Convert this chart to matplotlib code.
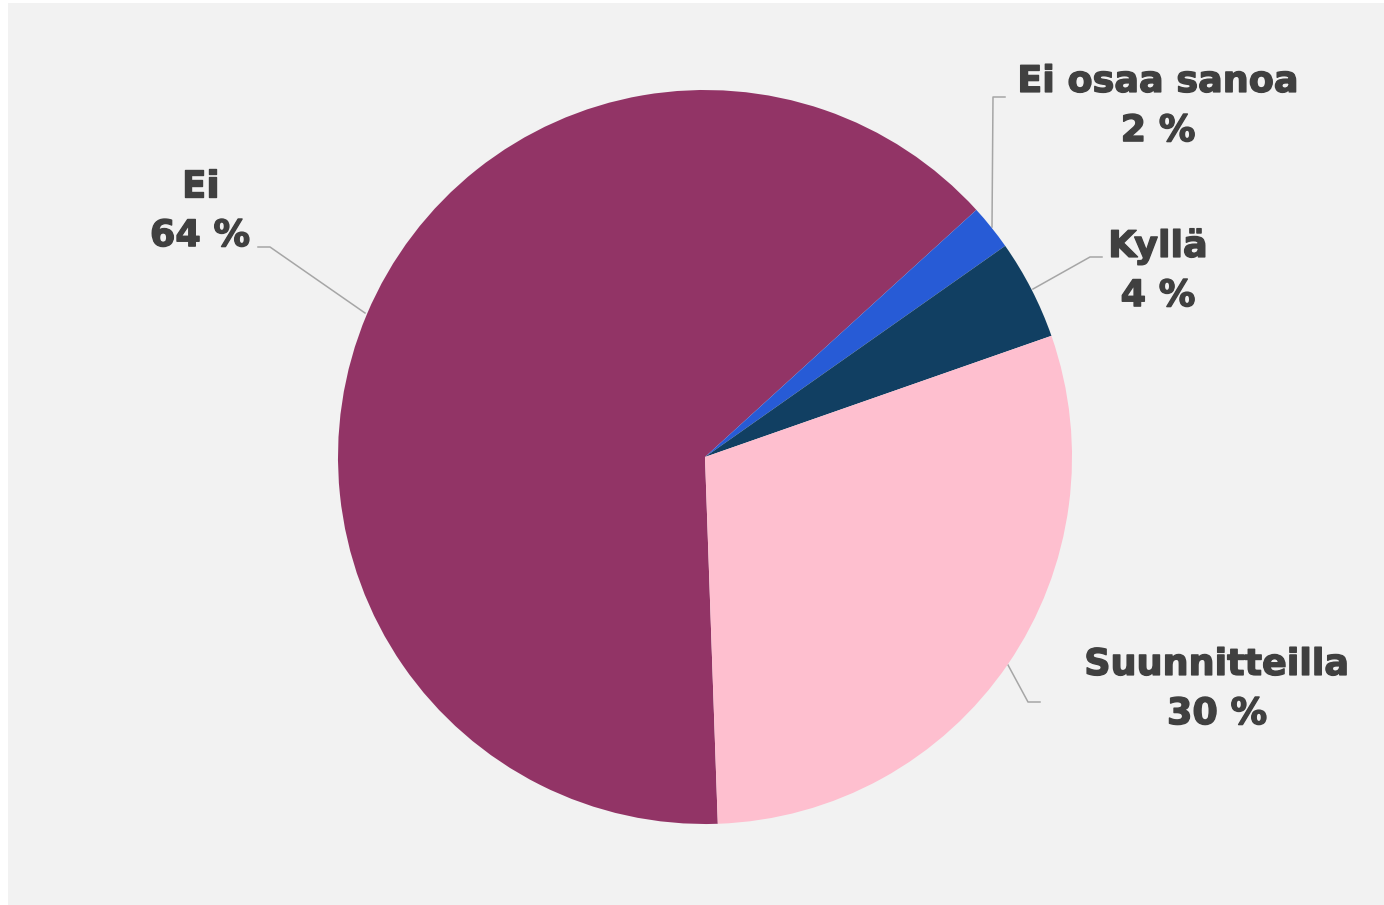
import matplotlib
matplotlib.use("Agg")
import matplotlib.pyplot as plt
import matplotlib.patheffects as pe
from matplotlib.patches import Rectangle

# vastausjakauma (%)
labels = ["Ei", "Ei osaa sanoa", "Kyllä", "Suunnitteilla"]
values = [63.8, 2.0, 4.4, 29.8]
colors = ["#923466", "#275BD6", "#113F62", "#FEBFCF"]

W, H = 1384, 905
fig = plt.figure(figsize=(W / 100, H / 100), dpi=100, facecolor="white")

# overlay in pixel coordinates for background, leader lines and labels
over = fig.add_axes([0, 0, 1, 1])
over.set_xlim(0, W)
over.set_ylim(H, 0)
over.axis("off")
over.add_patch(Rectangle((8, 3), W - 8, H - 3, facecolor="#F2F2F2", edgecolor="none", zorder=0))

# pie: centre (705, 457), radius 367 px
cx, cy, r = 705, 457, 367
ax = fig.add_axes([(cx - r) / W, (H - cy - r) / H, 2 * r / W, 2 * r / H])
ax.pie(values, colors=colors, startangle=-88, counterclock=False,
       wedgeprops=dict(linewidth=0))
ax.set_xlim(-1, 1)
ax.set_ylim(-1, 1)
ax.axis("off")

# leader lines and label positions
leaders = [
    [(365, 313), (270, 247), (258, 247)],
    [(992, 227), (993, 97), (1005, 97)],
    [(1033, 289), (1090, 257), (1102, 257)],
    [(1008, 665), (1028, 702), (1040, 702)],
]
label_pos = [(200, 211), (1158, 106), (1158, 271), (1217, 689)]

text_font = dict(family=["DejaVu Sans"], fontweight="bold", fontsize=26.3, color="#404040")
heavy = [pe.withStroke(linewidth=1.0, foreground="#404040")]
for lab, v, pts, (tx, ty) in zip(labels, values, leaders, label_pos):
    xs, ys = zip(*pts)
    over.plot(xs, ys, color="#A6A6A6", linewidth=1.1, zorder=3)
    over.text(tx, ty, f"{lab}\n{round(v)} %", ha="center", va="center",
              linespacing=1.42, zorder=4, path_effects=heavy, **text_font)

fig.savefig("out.png", dpi=100, facecolor="white")
